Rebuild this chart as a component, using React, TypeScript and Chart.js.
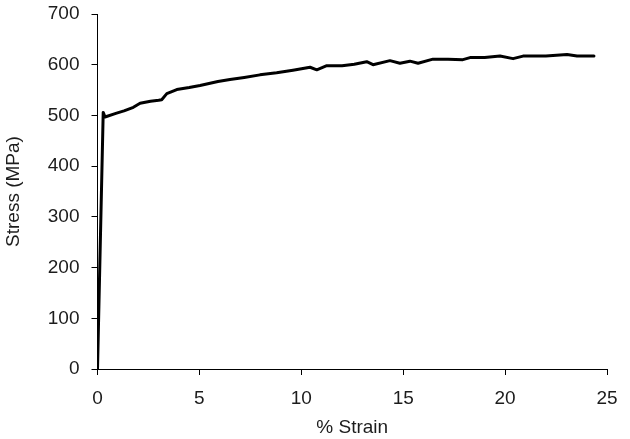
import React, { useEffect, useRef } from "react";
import { Chart, registerables } from "chart.js";

Chart.register(...registerables);

const strain: number[] = [
  0, 0.28, 0.37, 0.9, 1.3, 1.76, 2.09, 2.6, 3.0, 3.15, 3.4, 3.89, 4.5, 5.03, 5.91,
  6.5, 7.2, 7.97, 8.79, 9.59, 10.43, 10.76, 11.25, 12.0, 12.6, 13.21, 13.52, 14.35,
  14.84, 15.33, 15.73, 16.46, 17.2, 17.93, 18.28, 19.0, 19.75, 20.39, 20.88, 22.0,
  23.04, 23.53, 24.36,
];
const stress: number[] = [
  0, 506, 497, 504, 509, 516, 524, 528, 530, 531, 543, 551, 555, 559, 567,
  571, 575, 580, 584, 589, 595, 590, 598, 598, 601, 606, 600, 608,
  603, 607, 603, 611, 611, 610, 614, 614, 617, 612, 617, 617,
  620, 617, 617,
];
const xTicks: number[] = [0, 5, 10, 15, 20, 25];
const yTicks: number[] = [0, 100, 200, 300, 400, 500, 600, 700];
const xTitle = "% Strain";
const yTitle = "Stress (MPa)";

export default function App() {
  const ref = useRef<HTMLCanvasElement | null>(null);
  useEffect(() => {
    document.body.style.margin = "0";
    const font = { family: "'Liberation Sans', Arial, sans-serif", size: 19 };
    const textColor = "#1c1c1c";
    const chart = new Chart(ref.current as HTMLCanvasElement, {
      type: "line",
      data: {
        datasets: [
          {
            data: strain.map((s, i) => ({ x: s, y: stress[i] })),
            borderColor: "#000",
            borderWidth: 3,
            borderJoinStyle: "round",
            borderCapStyle: "round",
            pointRadius: 0,
            tension: 0,
            fill: false,
          },
        ],
      },
      options: {
        animation: false,
        responsive: false,
        layout: { padding: { top: 14, right: 23, left: 0, bottom: 0 } },
        plugins: { legend: { display: false }, tooltip: { enabled: false } },
        scales: {
          x: {
            type: "linear",
            min: 0,
            max: 25,
            afterBuildTicks: (s: any) => {
              s.ticks = xTicks.map((v) => ({ value: v }));
            },
            afterFit: (s: any) => {
              s.height = 70;
              s.paddingLeft = 0;
              s.paddingRight = 0;
            },
            ticks: { font, color: textColor, padding: 12, maxRotation: 0 },
            grid: { drawOnChartArea: false, drawTicks: true, tickLength: 6, color: "#000", lineWidth: 1 },
            border: { display: true, color: "#000", width: 1 },
            title: { display: true, text: xTitle, font, color: textColor, padding: { top: 0, bottom: 0 } },
          },
          y: {
            type: "linear",
            min: 0,
            max: 700,
            afterBuildTicks: (s: any) => {
              s.ticks = yTicks.map((v) => ({ value: v }));
            },
            afterFit: (s: any) => {
              s.width = 97.5;
              s.paddingTop = 0;
              s.paddingBottom = 0;
            },
            ticks: { font, color: textColor, padding: 12 },
            grid: { drawOnChartArea: false, drawTicks: true, tickLength: 6, color: "#000", lineWidth: 1 },
            border: { display: true, color: "#000", width: 1 },
            title: { display: true, text: yTitle, font, color: textColor, padding: { top: 2, bottom: 0 } },
          },
        },
      },
    });
    return () => chart.destroy();
  }, []);
  return (
    <div style={{ position: "absolute", left: 0, top: 0, width: 630, height: 439, background: "#fff" }}>
      <canvas ref={ref} width={630} height={439} />
    </div>
  );
}
